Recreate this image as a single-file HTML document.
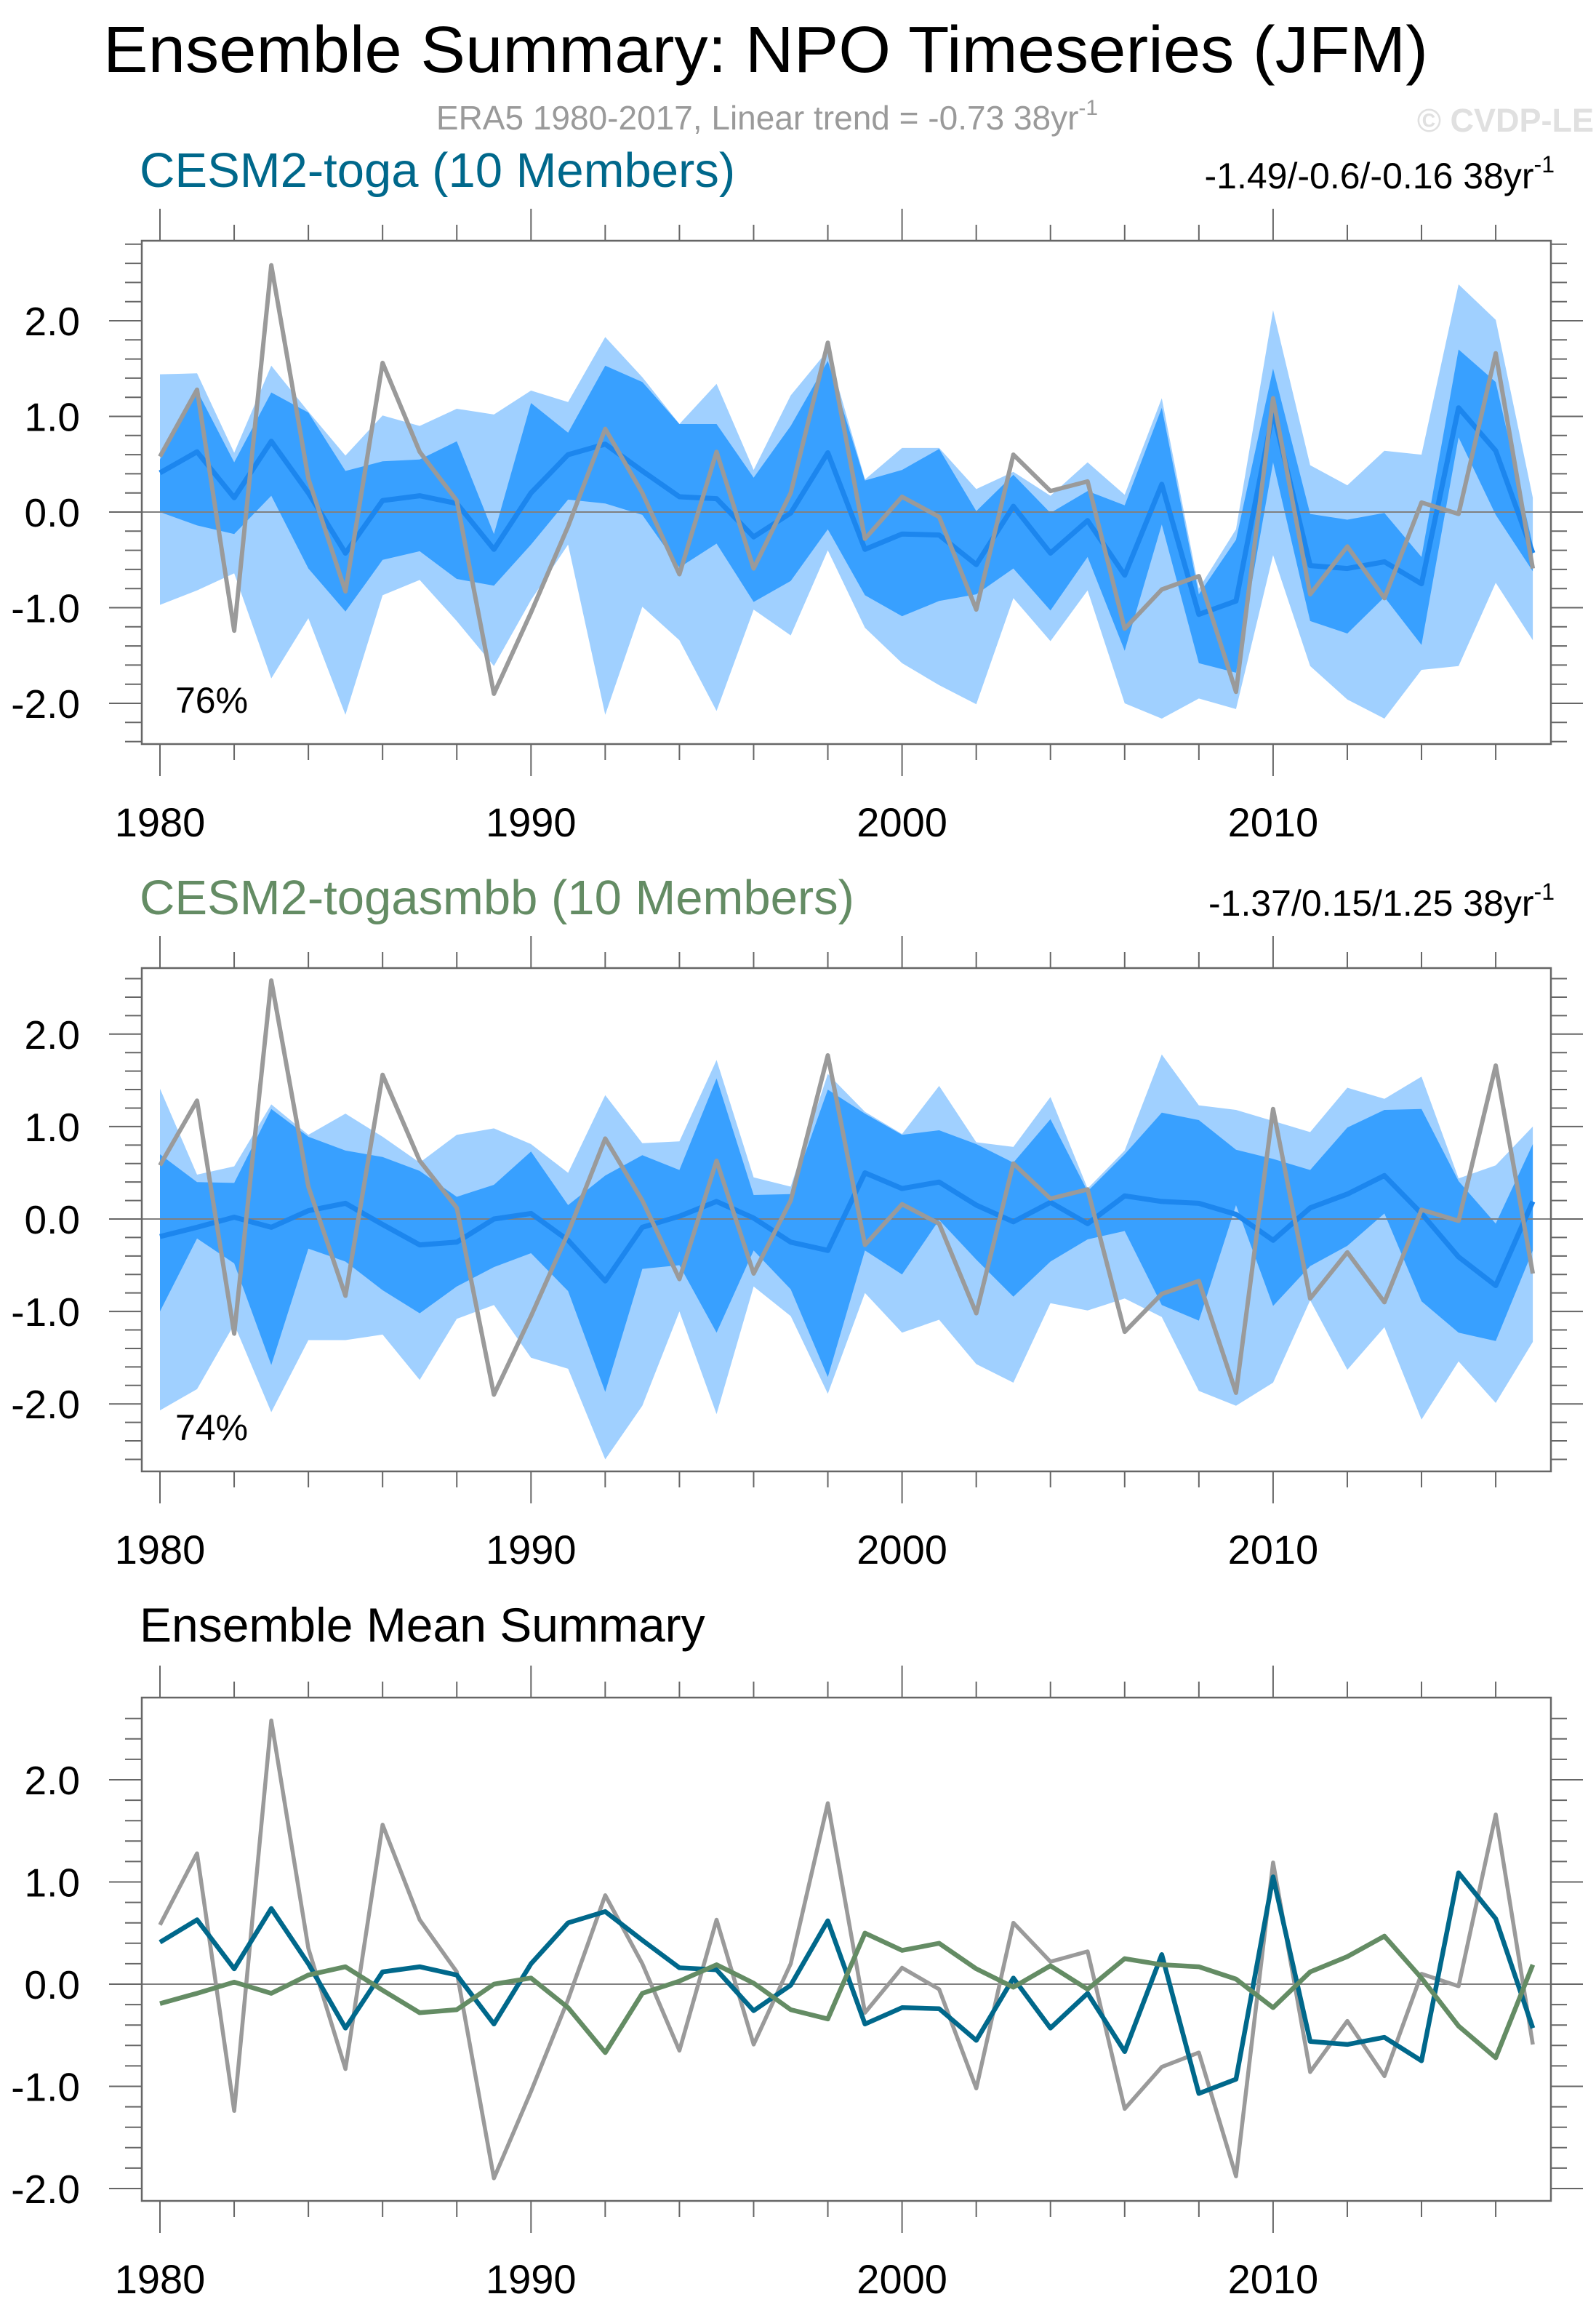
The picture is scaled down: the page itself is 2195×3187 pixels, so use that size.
<!DOCTYPE html>
<html><head><meta charset="utf-8"><title>Ensemble Summary: NPO Timeseries (JFM)</title>
<style>
html,body{margin:0;padding:0;background:#fff;}
svg{display:block;font-family:"Liberation Sans",Arial,sans-serif;}
</style></head>
<body>
<svg id="chart" width="2195" height="3187" viewBox="0 0 2195 3187" xmlns="http://www.w3.org/2000/svg">
<rect x="0" y="0" width="2195" height="3187" fill="#fff"/>
<text x="142" y="99" font-size="90" fill="#000" textLength="1822" lengthAdjust="spacingAndGlyphs">Ensemble Summary: NPO Timeseries (JFM)</text>
<text x="1055" y="178" font-size="46" fill="#9a9a9a" text-anchor="middle">ERA5 1980-2017, Linear trend = -0.73 38yr<tspan font-size="30" dy="-20">-1</tspan></text>
<text x="2192" y="181" font-size="45" font-weight="bold" fill="#e0e0e0" text-anchor="end">© CVDP-LE</text>

<text x="192" y="257" font-size="67" fill="#00688b">CESM2-toga (10 Members)</text>
<text x="2138" y="259" font-size="50" fill="#000" text-anchor="end">-1.49/-0.6/-0.16 38yr<tspan font-size="32" dy="-22">-1</tspan></text>
<text x="192" y="1257" font-size="67" fill="#648c64">CESM2-togasmbb (10 Members)</text>
<text x="2138" y="1259" font-size="50" fill="#000" text-anchor="end">-1.37/0.15/1.25 38yr<tspan font-size="32" dy="-22">-1</tspan></text>
<text x="192" y="2257" font-size="66" fill="#000">Ensemble Mean Summary</text>

<g id="p1"></g>
<g id="p2"></g>
<g id="p3"></g>

<text x="241" y="980" font-size="50" fill="#000">76%</text>
<text x="241" y="1980" font-size="50" fill="#000">74%</text>
</svg>
<script>
const years = [1980,1981,1982,1983,1984,1985,1986,1987,1988,1989,1990,1991,1992,1993,1994,1995,1996,1997,1998,1999,2000,2001,2002,2003,2004,2005,2006,2007,2008,2009,2010,2011,2012,2013,2014,2015,2016,2017];
const obsERA5 = [0.58,1.28,-1.24,2.58,0.35,-0.83,1.56,0.63,0.12,-1.9,-1.05,-0.15,0.87,0.2,-0.65,0.63,-0.59,0.2,1.77,-0.28,0.16,-0.05,-1.02,0.6,0.22,0.32,-1.22,-0.81,-0.67,-1.88,1.19,-0.86,-0.36,-0.9,0.1,-0.02,1.66,-0.59];
const togaMean = [0.41,0.63,0.15,0.74,0.2,-0.43,0.12,0.17,0.09,-0.39,0.2,0.6,0.71,0.43,0.16,0.14,-0.26,-0.01,0.62,-0.39,-0.23,-0.24,-0.55,0.06,-0.43,-0.09,-0.66,0.29,-1.07,-0.93,1.05,-0.56,-0.59,-0.52,-0.75,1.09,0.64,-0.43];
const togaLightHi = [1.44,1.45,0.62,1.53,1.05,0.59,1.01,0.9,1.08,1.02,1.27,1.15,1.83,1.41,0.92,1.34,0.44,1.22,1.69,0.34,0.67,0.67,0.24,0.42,0.17,0.52,0.18,1.19,-0.8,-0.18,2.11,0.49,0.28,0.64,0.6,2.38,2.01,0.15];
const togaDarkHi = [0.55,1.27,0.52,1.25,1.04,0.43,0.53,0.55,0.74,-0.23,1.14,0.83,1.53,1.36,0.92,0.92,0.36,0.9,1.58,0.33,0.44,0.66,0.01,0.39,-0.01,0.22,0.07,1.09,-0.86,-0.29,1.5,-0.02,-0.08,-0.01,-0.47,1.7,1.36,-0.35];
const togaDarkLo = [0.0,-0.14,-0.23,0.17,-0.59,-1.04,-0.5,-0.41,-0.7,-0.77,-0.34,0.13,0.09,-0.03,-0.58,-0.33,-0.94,-0.72,-0.18,-0.87,-1.09,-0.93,-0.86,-0.59,-1.03,-0.47,-1.45,-0.13,-1.58,-1.68,0.52,-1.14,-1.27,-0.89,-1.39,0.78,-0.03,-0.62];
const togaLightLo = [-0.97,-0.82,-0.64,-1.74,-1.11,-2.12,-0.87,-0.71,-1.14,-1.61,-0.92,-0.34,-2.12,-0.99,-1.34,-2.08,-1.02,-1.29,-0.4,-1.21,-1.58,-1.81,-2.01,-0.9,-1.35,-0.82,-2.0,-2.16,-1.95,-2.06,-0.45,-1.61,-1.96,-2.16,-1.65,-1.61,-0.74,-1.34];
const smbbMean = [-0.19,-0.09,0.02,-0.09,0.09,0.17,-0.06,-0.28,-0.25,0.0,0.06,-0.23,-0.67,-0.09,0.03,0.19,0.01,-0.25,-0.34,0.5,0.33,0.4,0.15,-0.03,0.18,-0.05,0.25,0.19,0.17,0.05,-0.23,0.12,0.27,0.47,0.06,-0.41,-0.72,0.19];
const smbbLightHi = [1.41,0.48,0.57,1.24,0.91,1.14,0.89,0.61,0.91,0.98,0.81,0.5,1.34,0.82,0.84,1.72,0.45,0.35,1.57,1.16,0.92,1.44,0.83,0.78,1.32,0.33,0.74,1.78,1.23,1.18,1.06,0.94,1.42,1.3,1.54,0.44,0.58,1.0];
const smbbDarkHi = [0.7,0.4,0.39,1.19,0.89,0.74,0.67,0.52,0.24,0.37,0.73,0.15,0.47,0.69,0.53,1.52,0.26,0.27,1.4,1.14,0.91,0.96,0.81,0.61,1.08,0.3,0.7,1.15,1.07,0.75,0.65,0.53,0.99,1.18,1.19,0.41,-0.05,0.81];
const smbbDarkLo = [-1.0,-0.21,-0.48,-1.58,-0.32,-0.46,-0.77,-1.02,-0.73,-0.52,-0.37,-0.78,-1.87,-0.54,-0.5,-1.23,-0.34,-0.76,-1.71,-0.34,-0.6,-0.01,-0.44,-0.84,-0.46,-0.22,-0.13,-0.93,-1.1,0.15,-0.94,-0.51,-0.29,0.06,-0.89,-1.23,-1.32,-0.34];
const smbbLightLo = [-2.07,-1.84,-1.14,-2.09,-1.31,-1.31,-1.25,-1.74,-1.08,-0.93,-1.5,-1.62,-2.6,-2.02,-1.0,-2.11,-0.73,-1.05,-1.89,-0.8,-1.23,-1.09,-1.57,-1.77,-0.91,-0.99,-0.86,-1.06,-1.86,-2.02,-1.77,-0.88,-1.63,-1.17,-2.17,-1.54,-1.99,-1.33];
const yTickValues = [-2,-1,0,1,2];
const yTickLabels = ["-2.0","-1.0","0.0","1.0","2.0"];
const xTickYears = [1980,1990,2000,2010];
const xTickLabels = ["1980","1990","2000","2010"];

const NS = "http://www.w3.org/2000/svg";
const X0 = 195, X1 = 2133;
function xScale(yr){ return 220 + (yr - 1980) * 51.03; }
function mk(parent, tag, attrs){
  const e = document.createElementNS(NS, tag);
  for (const k in attrs) e.setAttribute(k, attrs[k]);
  parent.appendChild(e);
  return e;
}
function makeY(p){ return v => p.zero - v * p.unit; }
function linePts(ys, vals){ return years.map((yr,i)=> xScale(yr).toFixed(1)+","+ys(vals[i]).toFixed(1)).join(" "); }
function bandPts(ys, hi, lo){
  const a = years.map((yr,i)=> xScale(yr).toFixed(1)+","+ys(hi[i]).toFixed(1));
  const b = years.map((yr,i)=> xScale(yr).toFixed(1)+","+ys(lo[i]).toFixed(1)).reverse();
  return a.concat(b).join(" ");
}
function axes(g, p, ys){
  const top = p.top, bot = p.top + 692;
  for (let k = Math.ceil(p.vmin*5); k <= Math.floor(p.vmax*5); k++){
    const v = k/5, y = ys(v), major = (k % 5 === 0);
    const t1 = mk(g,"line",{x1: major?150:172, x2: X0, y1:y, y2:y, stroke:"#666","stroke-width":2});
    
    
    const t2 = mk(g,"line",{x1: X1, x2: major?2177:2155, y1:y, y2:y, stroke:"#666","stroke-width":2});
    
    
  }
  yTickValues.forEach((v,i)=>{
    const t = mk(g,"text",{x:110, y: ys(v)+20, "font-size":55, "text-anchor":"end", fill:"#000"});
    t.textContent = yTickLabels[i];
    
    
  });
  for (let yr = 1980; yr <= 2016; yr += 2){
    const x = xScale(yr), major = (yr % 10 === 0);
    const a = mk(g,"line",{x1:x,x2:x,y1: top - (major?44:22), y2: top, stroke:"#666","stroke-width":2});
    
    
    const b = mk(g,"line",{x1:x,x2:x,y1: bot, y2: bot + (major?44:22), stroke:"#666","stroke-width":2});
    
    
  }
  xTickYears.forEach((yr,i)=>{
    const t = mk(g,"text",{x: xScale(yr), y: bot + 127, "font-size":56, "text-anchor":"middle", fill:"#000"});
    t.textContent = xTickLabels[i];
    
    
  });
}
function frame(g, p, ys){
  const z = mk(g,"line",{x1:X0,x2:X1,y1:ys(0),y2:ys(0),stroke:"#808080","stroke-width":2});
  
  
  const r = mk(g,"rect",{x:X0,y:p.top,width:X1-X0,height:692,fill:"none",stroke:"#666","stroke-width":2.5});
  
  
}
function bandPanel(id, p, lh, dh, dl, ll, mean){
  const g = document.getElementById(id), ys = makeY(p);
  const b1 = mk(g,"polygon",{points: bandPts(ys, lh, ll), fill:"#a0d0ff"});
  
  
  const b2 = mk(g,"polygon",{points: bandPts(ys, dh, dl), fill:"#38a0ff"});
  
  
  frame(g, p, ys);
  const m = mk(g,"polyline",{points: linePts(ys, mean), fill:"none", stroke:"#1c86ee","stroke-width":7,"stroke-linejoin":"round"});
  
  
  const o = mk(g,"polyline",{points: linePts(ys, obsERA5), fill:"none", stroke:"#9a9a9a","stroke-width":6,"stroke-linejoin":"round"});
  
  
  axes(g, p, ys);
}
const P1 = {top:331, zero:704, unit:131.5, vmin:-2.42, vmax:2.84};
const P2 = {top:1331, zero:1676, unit:127.1, vmin:-2.72, vmax:2.7};
const P3 = {top:2334, zero:2728, unit:140.5, vmin:-2.1, vmax:2.7};
bandPanel("p1", P1, togaLightHi, togaDarkHi, togaDarkLo, togaLightLo, togaMean);
bandPanel("p2", P2, smbbLightHi, smbbDarkHi, smbbDarkLo, smbbLightLo, smbbMean);
(function(){
  const g = document.getElementById("p3"), ys = makeY(P3);
  frame(g, P3, ys);
  const o = mk(g,"polyline",{points: linePts(ys, obsERA5), fill:"none", stroke:"#9a9a9a","stroke-width":5.5,"stroke-linejoin":"round"});
  
  
  const a = mk(g,"polyline",{points: linePts(ys, togaMean), fill:"none", stroke:"#00688b","stroke-width":6.5,"stroke-linejoin":"round"});
  
  
  const b = mk(g,"polyline",{points: linePts(ys, smbbMean), fill:"none", stroke:"#648c64","stroke-width":6.5,"stroke-linejoin":"round"});
  
  
  axes(g, P3, ys);
})();
</script>
</body></html>
